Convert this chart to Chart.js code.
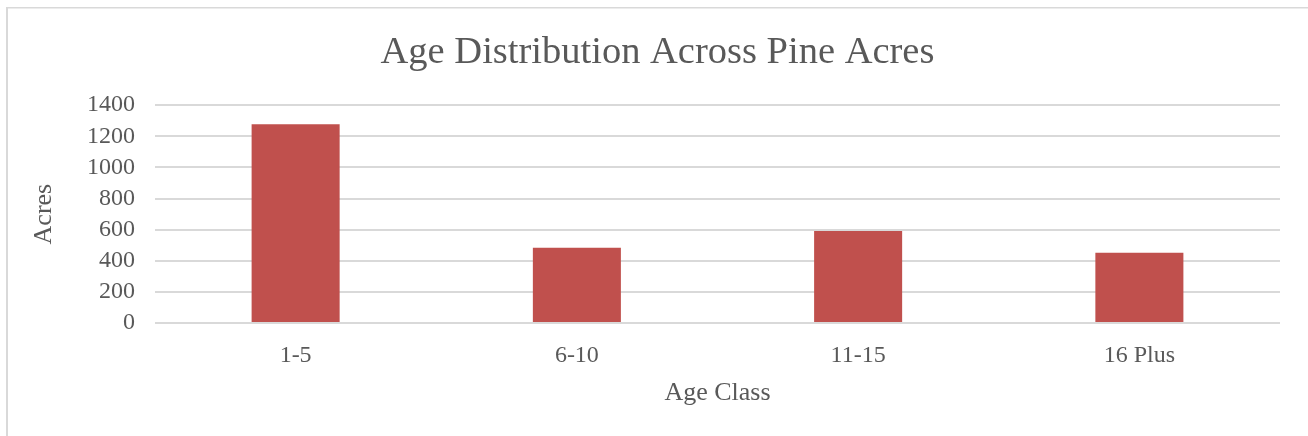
<!DOCTYPE html>
<html>
<head>
<meta charset="utf-8">
<script src="https://cdn.jsdelivr.net/npm/chart.js@4"></script>
<style>
  html, body { margin: 0; padding: 0; background: #fff; }
  #wrap { position: relative; width: 1308px; height: 436px; }
</style>
</head>
<body>
<div id="wrap"><canvas id="myChart"></canvas></div>
<script>
const ageClasses = ['1-5', '6-10', '11-15', '16 Plus']
const acres = [1277, 483, 591, 451]
const yTicks = [0, 200, 400, 600, 800, 1000, 1200, 1400]

const textColor = '#595959'
const fontFamily = '"Liberation Serif", "Times New Roman", serif'

// light grey chart-area frame like the spreadsheet export
const frame = {
    id: 'frame',
    beforeDraw(chart) {
        const ctx = chart.ctx
        ctx.save()
        ctx.fillStyle = '#d9d9d9'
        ctx.fillRect(6, 7, 2, chart.height)
        ctx.fillRect(6, 7, chart.width, 1.5)
        ctx.restore()
    }
}

const canvas = document.getElementById('myChart')
const chart = new Chart(canvas, {
    type: 'bar',
    data: {
        labels: ageClasses,
        datasets: [{
            label: 'Acres',
            data: acres,
            backgroundColor: '#c0504d',
            borderWidth: 0,
            barPercentage: 1,
            categoryPercentage: 0.313
        }]
    },
    options: {
        responsive: true,
        maintainAspectRatio: false,
        animation: false,
        layout: {
            padding: { left: 35, right: 28, top: 0, bottom: 23 }
        },
        plugins: {
            legend: { display: false },
            tooltip: { enabled: false },
            title: {
                display: true,
                text: 'Age Distribution Across Pine Acres',
                color: textColor,
                font: { family: fontFamily, size: 38.5, weight: 'normal' },
                padding: { top: 30, bottom: 29 }
            }
        },
        scales: {
            x: {
                afterFit(scale) { scale.height = 90 },
                grid: { display: false, drawTicks: false },
                border: { display: false },
                ticks: {
                    color: textColor,
                    font: { family: fontFamily, size: 24 },
                    padding: 18
                },
                title: {
                    display: true,
                    text: 'Age Class',
                    color: textColor,
                    font: { family: fontFamily, size: 26 },
                    padding: { top: 8, bottom: 4 }
                }
            },
            y: {
                min: 0,
                max: 1400,
                afterFit(scale) { scale.width = 120 },
                afterBuildTicks(scale) { scale.ticks = yTicks.map(v => ({ value: v })) },
                grid: { color: '#d9d9d9', lineWidth: 2, drawTicks: false },
                border: { display: false },
                ticks: {
                    autoSkip: false,
                    color: textColor,
                    font: { family: fontFamily, size: 24 },
                    padding: 20,
                    callback: v => String(v)
                },
                title: {
                    display: true,
                    text: 'Acres',
                    color: textColor,
                    font: { family: fontFamily, size: 26 },
                    padding: { top: -6, bottom: 4 }
                }
            }
        }
    },
    plugins: [frame]
})
</script>
</body>
</html>
